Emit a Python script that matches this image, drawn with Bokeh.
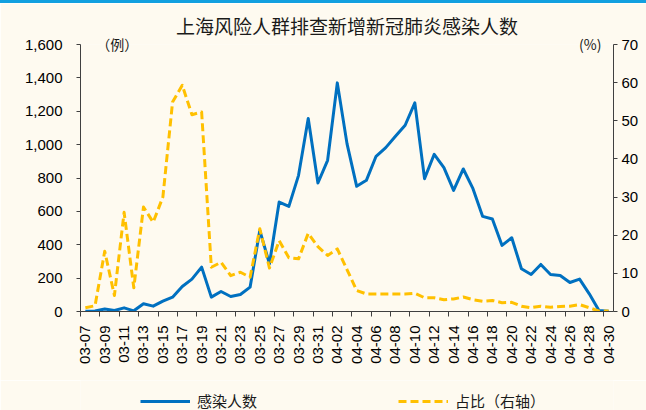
from math import pi
from bokeh.plotting import figure
from bokeh.layouts import column
from bokeh.models import (Range1d, LinearAxis, FixedTicker, NumeralTickFormatter,
                          Legend, LegendItem, ColumnDataSource)
from bokeh.embed import file_html
from bokeh.resources import INLINE

# ---------------- data ----------------
dates = ["03-07", "03-08", "03-09", "03-10", "03-11", "03-12", "03-13", "03-14",
         "03-15", "03-16", "03-17", "03-18", "03-19", "03-20", "03-21", "03-22",
         "03-23", "03-24", "03-25", "03-26", "03-27", "03-28", "03-29", "03-30",
         "03-31", "04-01", "04-02", "04-03", "04-04", "04-05", "04-06", "04-07",
         "04-08", "04-09", "04-10", "04-11", "04-12", "04-13", "04-14", "04-15",
         "04-16", "04-17", "04-18", "04-19", "04-20", "04-21", "04-22", "04-23",
         "04-24", "04-25", "04-26", "04-27", "04-28", "04-29", "04-30"]

cases = [2, 3, 15, 6, 22, 4, 46, 32, 62, 86, 150, 194, 266, 86, 120, 90,
         102, 146, 486, 286, 656, 630, 816, 1156, 770, 906, 1370, 1006, 750, 786,
         930, 982, 1050, 1116, 1250, 796, 942, 862, 726, 854, 736, 570, 554, 396,
         442, 256, 222, 282, 222, 216, 174, 194, 106, 6, 2]

share = [1.0, 1.5, 15.8, 4.2, 26.0, 6.2, 27.4, 23.4, 30.0, 54.9, 59.3, 51.6,
         52.3, 11.6, 12.9, 9.4, 10.3, 9.0, 21.7, 11.4, 18.6, 14.1, 13.8, 20.5,
         17.0, 14.7, 16.4, 11.0, 5.5, 4.6, 4.6, 4.6, 4.6, 4.6, 4.8, 3.6, 3.6,
         3.1, 3.3, 3.8, 3.1, 2.7, 2.9, 2.3, 2.4, 1.4, 1.0, 1.4, 1.1, 1.3, 1.4,
         1.8, 1.0, 0.1, 0.1]

left_ticks = [0, 200, 400, 600, 800, 1000, 1200, 1400, 1600]
right_ticks = [0, 10, 20, 30, 40, 50, 60, 70]

title_text = "上海风险人群排查新增新冠肺炎感染人数"
unit_labels = {3.3: "（例）", 52.1: "(%)"}
series_names = ["感染人数", "占比（右轴）"]

# ---------------- style ----------------
BG = "#FEFAF0"
AX = "#404040"
BLUE = "#0070C0"
GOLD = "#FFC000"
BAR = "#12A0E0"
NUMFONT = "Liberation Sans"
CJK = "Noto Sans CJK SC"
W = 646

n = len(dates)
src = ColumnDataSource(dict(x=list(range(n)), cases=cases, share=share))

# thin coloured rule across the top of the page
bar = figure(width=W, height=3, title=None, x_range=Range1d(0, 1), y_range=Range1d(0, 1),
             x_axis_type=None, y_axis_type=None, min_border=0,
             output_backend="svg", toolbar_location=None,
             background_fill_color=BAR, border_fill_color=BAR, outline_line_color=None)
bar.styles = {"background-color": BAR}
bar.xgrid.grid_line_color = None
bar.ygrid.grid_line_color = None

p = figure(frame_width=533, frame_height=267,
           min_border_left=80, min_border_right=33, min_border_top=41, min_border_bottom=69,
           x_range=Range1d(-0.5, n - 0.5), y_range=Range1d(0, 1600),
           output_backend="svg", toolbar_location=None,
           background_fill_color=BG, border_fill_color=BG, outline_line_color=None)
p.extra_y_ranges = {"pct": Range1d(0, 70)}
p.xgrid.grid_line_color = None
p.ygrid.grid_line_color = None

# bottom axis: labels at category centres, tick marks (minor) at category boundaries
label_idx = list(range(0, n, 2))
xa = p.below[0]
xa.ticker = FixedTicker(ticks=label_idx, minor_ticks=[i - 0.5 for i in label_idx])
xa.major_label_overrides = {i: dates[i] for i in label_idx}
xa.major_tick_line_color = None
xa.major_tick_out = 5
xa.major_tick_in = 0
xa.minor_tick_line_color = AX
xa.minor_tick_out = 5
xa.minor_tick_in = 0
xa.axis_line_color = AX
xa.major_label_orientation = pi / 2
xa.major_label_text_font = NUMFONT
xa.major_label_text_font_size = "15px"
xa.major_label_text_color = "#000000"
xa.major_label_standoff = 9

# left axis
ya = p.left[0]
ya.ticker = FixedTicker(ticks=left_ticks)
ya.formatter = NumeralTickFormatter(format="0,0")
ya.major_tick_out = 4
ya.major_tick_in = 0
ya.minor_tick_line_color = None
ya.axis_line_color = AX
ya.major_tick_line_color = AX
ya.major_label_text_font = NUMFONT
ya.major_label_text_font_size = "15px"
ya.major_label_text_color = "#000000"
ya.major_label_standoff = 14

# right axis
yr = LinearAxis(y_range_name="pct", ticker=FixedTicker(ticks=right_ticks))
yr.major_tick_out = 4
yr.major_tick_in = 0
yr.minor_tick_line_color = None
yr.axis_line_color = AX
yr.major_tick_line_color = AX
yr.major_label_text_font = NUMFONT
yr.major_label_text_font_size = "15px"
yr.major_label_text_color = "#000000"
yr.major_label_standoff = 4
p.add_layout(yr, "right")

# unit labels, drawn by a bare axis along the top of the plot
ua = LinearAxis(ticker=FixedTicker(ticks=list(unit_labels)),
                major_label_overrides=unit_labels)
ua.axis_line_color = None
ua.major_tick_line_color = None
ua.minor_tick_line_color = None
ua.major_tick_out = 0
ua.major_tick_in = 0
ua.major_label_standoff = -9
ua.major_label_text_font = CJK
ua.major_label_text_font_size = "14px"
ua.major_label_text_color = "#1a1a1a"
p.add_layout(ua, "above")

# title
p.title.text = title_text
p.title.align = "center"
p.title.text_font = CJK
p.title.text_font_size = "19px"
p.title.text_font_style = "normal"
p.title.text_color = "#1a1a1a"
p.title.standoff = -17

# lines
p.line("x", "cases", source=src, line_color=BLUE, line_width=3, line_join="round")
p.line("x", "share", source=src, y_range_name="pct", line_color=GOLD,
       line_width=3, line_dash="8 4", line_join="round")

# legend strip below the chart (same series, kept out of this strip's view)
q = figure(width=W, height=30, title=None, x_range=Range1d(0, 1), y_range=Range1d(-2, -1),
           x_axis_type=None, y_axis_type=None, min_border=0,
           output_backend="svg", toolbar_location=None,
           background_fill_color=BG, border_fill_color=BG, outline_line_color=None)
q.xgrid.grid_line_color = None
q.ygrid.grid_line_color = None
k1 = q.line("x", "cases", source=src, line_color=BLUE, line_width=3)
k2 = q.line("x", "share", source=src, line_color=GOLD, line_width=3, line_dash="8 4")
lg = Legend(items=[LegendItem(label=series_names[0], renderers=[k1]),
                   LegendItem(label=series_names[1], renderers=[k2])],
            location=(60, -1), orientation="horizontal", glyph_width=50, glyph_height=16,
            label_standoff=7, spacing=141, padding=0, margin=0,
            border_line_color=None, background_fill_alpha=0,
            label_text_font=CJK, label_text_font_size="15px", label_text_color="#1a1a1a",
            label_height=16)
q.add_layout(lg)

layout = column(bar, p, q, spacing=0)
open("out.html", "w").write(file_html(layout, INLINE))
